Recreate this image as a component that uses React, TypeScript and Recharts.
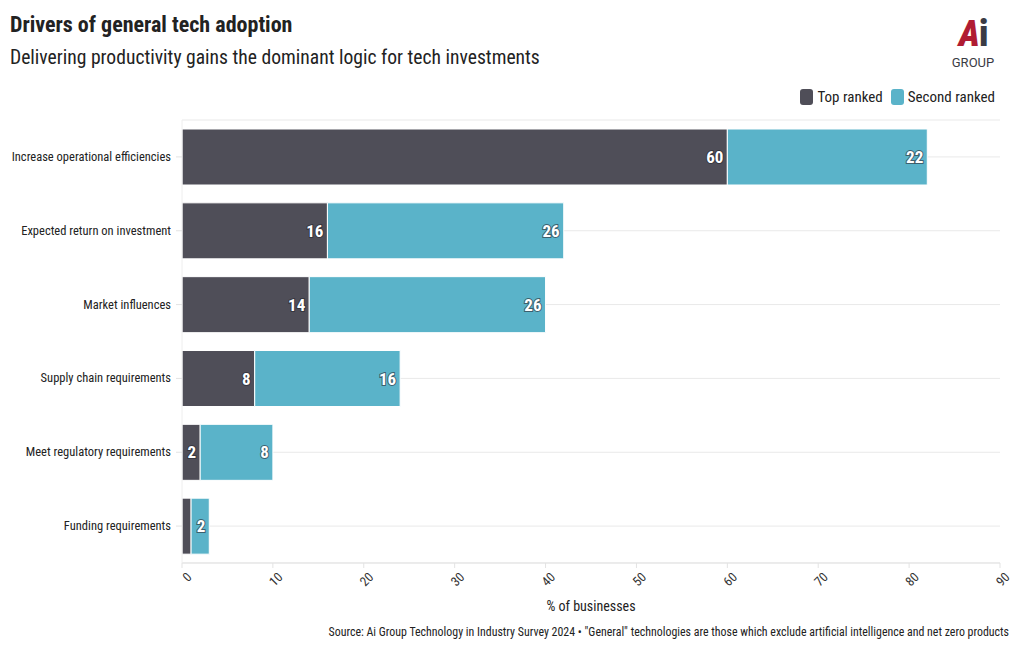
import React from "react";
import { Bar, BarChart, CartesianGrid, LabelList, XAxis, YAxis } from "recharts";

const categories = [
  "Increase operational efficiencies",
  "Expected return on investment",
  "Market influences",
  "Supply chain requirements",
  "Meet regulatory requirements",
  "Funding requirements",
];
const topRanked = [60, 16, 14, 8, 2, 1];
const secondRanked = [22, 26, 26, 16, 8, 2];
const xTicks = [0, 10, 20, 30, 40, 50, 60, 70, 80, 90];

const data = categories.map((name, i) => ({
  name,
  top: topRanked[i],
  second: secondRanked[i],
}));

const FONT = "'Roboto Condensed', 'Liberation Sans Narrow', 'DejaVu Sans Condensed', Roboto, sans-serif";
const DARK = "#4f4e58";
const BLUE = "#5ab3c9";

function valueLabel(v: unknown) {
  const n = Number(v);
  return n < 2 ? "" : String(n);
}

function RotatedTick(props: any) {
  const { x, y, payload } = props;
  return (
    <g transform={`translate(${x},${y + 3})`}>
      <text
        transform="rotate(-45)"
        textAnchor="end"
        dy={11}
        dx={4}
        fontSize={13}
        fill="#333"
        fontFamily={FONT}
      >
        {payload.value}
      </text>
    </g>
  );
}

function CategoryTick(props: any) {
  const { x, y, payload } = props;
  return (
    <text x={x} y={y} dy={4} textAnchor="end" fontSize={12.5} fill="#222" fontFamily={FONT}>
      {payload.value}
    </text>
  );
}

const labelProps = {
  position: "insideRight" as const,
  formatter: valueLabel,
  fill: "#fff",
  fontSize: 17,
  fontWeight: 700,
  fontFamily: FONT,
  stroke: "rgba(40,40,48,0.6)",
  strokeWidth: 2,
  paintOrder: "stroke",
  offset: 4,
};

export default function App() {
  return (
    <div
      style={{
        position: "absolute",
        left: 0,
        top: 0,
        width: 1020,
        height: 650,
        background: "#fff",
        fontFamily: FONT,
      }}
    >
      <div style={{ position: "absolute", left: 10, top: 12, fontSize: 22, fontWeight: 700, color: "#222" }}>
        Drivers of general tech adoption
      </div>
      <div style={{ position: "absolute", left: 10, top: 46, fontSize: 19.6, color: "#222" }}>
        Delivering productivity gains the dominant logic for tech investments
      </div>

      {/* logo */}
      <div
        style={{
          position: "absolute",
          left: 940,
          top: 14,
          width: 66,
          height: 41,
          textAlign: "center",
          fontSize: 36,
          fontWeight: 900,
          fontStyle: "italic",
          color: "#b01c33",
          lineHeight: "41px",
          letterSpacing: -1,
        }}
      >
        A<span style={{ color: "#3a3b45", fontStyle: "normal" }}>i</span>
      </div>
      <div
        style={{
          position: "absolute",
          left: 940,
          top: 56,
          width: 66,
          textAlign: "center",
          fontSize: 13,
          color: "#3a3b45",
          lineHeight: "14px",
          fontFamily: "Roboto, sans-serif",
        }}
      >
        GROUP
      </div>

      {/* legend */}
      <div style={{ position: "absolute", right: 25, top: 88, display: "flex", alignItems: "center", fontSize: 15, color: "#222" }}>
        <span style={{ width: 13, height: 16, borderRadius: 3, background: DARK, display: "inline-block", marginRight: 4 }} />
        <span style={{ marginRight: 8 }}>Top ranked</span>
        <span style={{ width: 13, height: 16, borderRadius: 3, background: BLUE, display: "inline-block", marginRight: 4 }} />
        <span>Second ranked</span>
      </div>

      <div style={{ position: "absolute", left: 0, top: 0 }}>
        <BarChart
          width={1020}
          height={650}
          data={data}
          layout="vertical"
          margin={{ top: 120, right: 20, bottom: 0, left: 0 }}
          barCategoryGap={9}
        >
          <CartesianGrid horizontal vertical={false} stroke="#e9e9e9" />
          <XAxis
            type="number"
            domain={[0, 90]}
            ticks={xTicks}
            interval={0}
            tick={<RotatedTick />}
            axisLine={{ stroke: "#e3e3e3" }}
            tickLine={{ stroke: "#e3e3e3" }}
            tickSize={5}
            label={{
              value: "% of businesses",
              position: "insideBottom",
              offset: 39,
              fontSize: 14,
              fill: "#222",
              fontFamily: FONT,
            }}
            height={87}
          />
          <YAxis
            type="category"
            dataKey="name"
            width={182}
            tick={<CategoryTick />}
            axisLine={{ stroke: "#eeeeee" }}
            tickLine={{ stroke: "#e3e3e3" }}
            tickSize={6}
            tickMargin={5}
          />
          <Bar dataKey="top" stackId="a" fill={DARK} stroke="#fff" strokeWidth={1} isAnimationActive={false}>
            <LabelList dataKey="top" {...labelProps} />
          </Bar>
          <Bar dataKey="second" stackId="a" fill={BLUE} stroke="#fff" strokeWidth={1} isAnimationActive={false}>
            <LabelList dataKey="second" {...labelProps} />
          </Bar>
        </BarChart>
      </div>

      <div style={{ position: "absolute", right: 11, top: 625, fontSize: 11.9, color: "#222" }}>
        Source: Ai Group Technology in Industry Survey 2024 • "General" technologies are those which exclude artificial intelligence and net zero products
      </div>
    </div>
  );
}
